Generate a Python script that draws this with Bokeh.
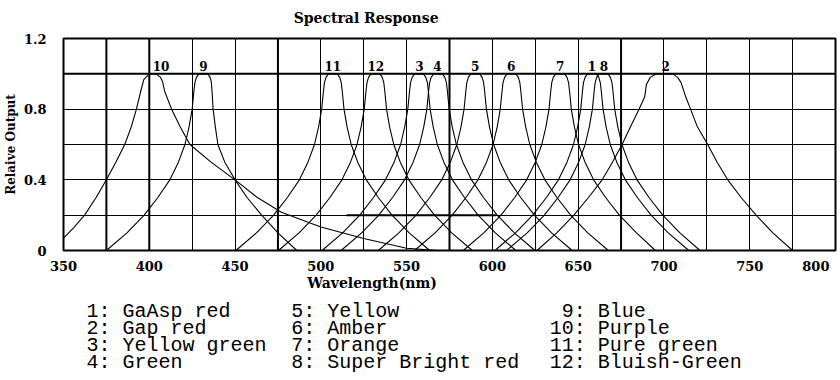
from bokeh.plotting import figure
from bokeh.layouts import column
from bokeh.models import Range1d, FixedTicker
from bokeh.embed import file_html
from bokeh.resources import INLINE
from bokeh.core.properties import value

# ---------------- data ----------------
led_numbers = ["1", "2", "3", "4", "5", "6", "7", "8", "9", "10", "11", "12"]
led_names = ["GaAsp red", "Gap red", "Yellow green", "Green", "Yellow", "Amber",
             "Orange", "Super Bright red", "Blue", "Purple", "Pure green", "Bluish-Green"]

# relative output levels at which the narrow-band curves were read
levels = [0.0, 0.1, 0.2, 0.3, 0.4, 0.5, 0.6, 0.7, 0.8, 0.9, 0.95, 0.98, 1.0,
          1.0, 0.98, 0.95, 0.9, 0.8, 0.7, 0.6, 0.5, 0.4, 0.3, 0.2, 0.1, 0.0]

# wavelengths (nm) where each curve crosses the levels above
wl_1 = [601.5, 613.5, 623.5, 631.5, 638.5, 643.5, 647.3, 649.7, 651.5, 652.5, 653.1, 654.0, 655.4,
        660.6, 662.0, 662.9, 663.5, 664.5, 666.3, 668.7, 672.5, 677.5, 684.5, 692.5, 702.5, 714.5]
wl_3 = [500.7, 512.7, 522.7, 530.7, 537.7, 542.7, 546.5, 548.9, 550.7, 551.7, 552.3, 553.2, 554.6,
        559.8, 561.2, 562.1, 562.7, 563.7, 565.5, 567.9, 571.7, 576.7, 583.7, 591.7, 601.7, 613.7]
wl_4 = [511.8, 523.8, 533.8, 541.8, 548.8, 553.8, 557.6, 560.0, 561.8, 562.8, 563.4, 564.3, 565.7,
        570.9, 572.3, 573.2, 573.8, 574.8, 576.6, 579.0, 582.8, 587.8, 594.8, 602.8, 612.8, 624.8]
wl_5 = [533.5, 545.5, 555.5, 563.5, 570.5, 575.5, 579.3, 581.7, 583.5, 584.5, 585.1, 586.0, 587.4,
        592.6, 594.0, 594.9, 595.5, 596.5, 598.3, 600.7, 604.5, 609.5, 616.5, 624.5, 634.5, 646.5]
wl_6 = [554.6, 566.6, 576.6, 584.6, 591.6, 596.6, 600.4, 602.8, 604.6, 605.6, 606.2, 607.1, 608.5,
        613.7, 615.1, 616.0, 616.6, 617.6, 619.4, 621.8, 625.6, 630.6, 637.6, 645.6, 655.6, 667.6]
wl_7 = [583.0, 595.0, 605.0, 613.0, 620.0, 625.0, 628.8, 631.2, 633.0, 634.0, 634.6, 635.5, 636.9,
        642.1, 643.5, 644.4, 645.0, 646.0, 647.8, 650.2, 654.0, 659.0, 666.0, 674.0, 684.0, 695.0]
wl_8 = [608.3, 620.3, 630.3, 638.3, 645.3, 650.3, 654.1, 656.5, 658.3, 659.3, 659.9, 660.8, 662.2,
        667.4, 668.8, 669.7, 670.3, 671.3, 673.1, 675.5, 679.3, 684.3, 691.3, 699.3, 709.3, 721.0]
wl_9 = [375.0, 387.0, 397.0, 405.0, 412.0, 417.0, 420.8, 423.2, 425.0, 426.0, 426.6, 427.5, 428.9,
        434.1, 435.5, 436.2, 436.6, 437.2, 438.5, 440.0, 444.0, 450.0, 457.0, 465.5, 475.0, 486.0]
wl_11 = [450.5, 462.5, 472.5, 480.5, 487.5, 492.5, 496.3, 498.7, 500.5, 501.5, 502.1, 503.0, 504.4,
         509.6, 511.0, 511.9, 512.5, 513.5, 515.3, 517.7, 521.5, 526.5, 533.5, 541.5, 551.5, 563.5]
wl_12 = [475.3, 487.3, 497.3, 505.3, 512.3, 517.3, 521.1, 523.5, 525.3, 526.3, 526.9, 527.8, 529.2,
         534.4, 535.8, 536.7, 537.3, 538.3, 540.1, 542.5, 546.3, 551.3, 558.3, 566.3, 576.3, 588.3]

# the two broad curves
wl_2 = [626, 637.5, 647.5, 656, 664, 670, 675.6, 680.5, 685.5, 688.8, 689.8, 692, 695.5,
        705.1, 708, 710, 712.7, 715.5, 719.5, 725.5, 731, 737.2, 745, 753.7, 763.5, 775]
out_2 = [0, 0.1, 0.2, 0.3, 0.4, 0.5, 0.6, 0.7, 0.8, 0.87, 0.94, 0.98, 1.0,
         1.0, 0.98, 0.95, 0.87, 0.8, 0.7, 0.6, 0.5, 0.4, 0.3, 0.2, 0.1, 0]
wl_10 = [350, 356, 362.3, 369, 375, 380.5, 385.7, 389.5, 392.5, 395, 396.8, 400, 404, 406.5,
         407.7, 409, 413, 418, 423.7, 436, 450, 463, 477, 500, 525, 550, 568]
out_10 = [0.07, 0.13, 0.2, 0.3, 0.4, 0.5, 0.6, 0.7, 0.8, 0.9, 0.967, 1.0, 1.0, 0.98,
          0.957, 0.9, 0.8, 0.7, 0.6, 0.5, 0.4, 0.3, 0.216, 0.133, 0.068, 0.013, 0]

# peak wavelength of each LED (where its number is printed), LEDs 1..12
peak_nm = [658, 701, 557.5, 568, 590, 611, 639.5, 665, 431.5, 402, 507, 532]

x_ticks = [350, 400, 450, 500, 550, 600, 650, 700, 750, 800]
y_ticks = [0, 0.4, 0.8, 1.2]
grid_x = [350, 375, 400, 425, 450, 475, 500, 525, 550, 575, 600, 625, 650, 675, 700, 725, 750, 775, 800]
grid_y = [0, 0.2, 0.4, 0.6, 0.8, 1.0, 1.2]
heavy_x = [375, 400, 475, 575, 675]
heavy_y = [1.0]
heavy_seg_x0 = [515]
heavy_seg_x1 = [602]
heavy_seg_y = [0.2]

TITLE = "Spectral Response"
X_TITLE = "Wavelength(nm)"
Y_TITLE = "Relaive Output"

SERIF = "DejaVu Serif"
MONO = "Liberation Mono"
W = 838
BL, BR = 62, 3          # left / right borders around the plotting frame (px)


def text_panel(height):
    # text strip whose x coordinates are page pixels; borders equal to the chart's
    f = figure(width=W, height=height, output_backend="svg", toolbar_location=None,
               x_range=Range1d(BL, W - BR), y_range=Range1d(0, height),
               x_axis_type=None, y_axis_type=None,
               min_border_left=BL, min_border_right=BR, min_border_top=0, min_border_bottom=0)
    f.outline_line_color = None
    f.background_fill_color = "white"
    f.border_fill_color = "white"
    f.grid.visible = False
    return f


# ---------------- title strip ----------------
top = text_panel(30)
top.text(x=[365], y=[13], text=[TITLE], text_align="center", text_baseline="middle",
         text_font=value(SERIF), text_font_style="bold", text_font_size="14px", text_color="black")

# ---------------- main chart ----------------
p = figure(width=W, height=246, output_backend="svg", toolbar_location=None,
           x_range=Range1d(350, 800), y_range=Range1d(0, 1.2),
           min_border_left=BL, min_border_right=BR, min_border_top=8, min_border_bottom=22)
p.background_fill_color = "white"
p.border_fill_color = "white"
p.outline_line_color = "black"
p.outline_line_width = 2

for g, t in ((p.xgrid, grid_x), (p.ygrid, grid_y)):
    g.ticker = FixedTicker(ticks=t)
    g.grid_line_color = "black"
    g.grid_line_alpha = 1.0
    g.grid_line_width = 1

# heavier grid lines
p.segment(x0=heavy_x, x1=heavy_x, y0=[0] * len(heavy_x), y1=[1.2] * len(heavy_x),
          line_color="black", line_width=2)
p.segment(x0=[350] * len(heavy_y), x1=[800] * len(heavy_y), y0=heavy_y, y1=heavy_y,
          line_color="black", line_width=2)
p.segment(x0=heavy_seg_x0, x1=heavy_seg_x1, y0=heavy_seg_y, y1=heavy_seg_y,
          line_color="black", line_width=2)

ax = p.xaxis[0]
ax.ticker = FixedTicker(ticks=x_ticks)
# the last label sits flush with the right border, as in the original
ax.major_label_overrides = {800: "800" + "\u00a0" * 2}
ay = p.yaxis[0]
ay.ticker = FixedTicker(ticks=y_ticks)
ay.major_label_overrides = {0: "0", 0.4: "0.4", 0.8: "0.8", 1.2: "1.2"}
for a in (ax, ay):
    a.axis_line_color = None
    a.major_tick_line_color = None
    a.minor_tick_line_color = None
    a.major_tick_out = 0
    a.major_tick_in = 0
    a.minor_tick_out = 0
    a.minor_tick_in = 0
    a.major_label_text_font = SERIF
    a.major_label_text_font_style = "bold"
    a.major_label_text_font_size = "13px"
    a.major_label_text_color = "black"
ax.major_label_standoff = 8
ay.major_label_standoff = 17
ay.axis_label = Y_TITLE
ay.axis_label_standoff = 3
ay.axis_label_text_font = SERIF
ay.axis_label_text_font_style = "bold"
ay.axis_label_text_font_size = "12px"
ay.axis_label_text_color = "black"

curves = [(wl_1, levels), (wl_2, out_2), (wl_3, levels), (wl_4, levels), (wl_5, levels),
          (wl_6, levels), (wl_7, levels), (wl_8, levels), (wl_9, levels), (wl_10, out_10),
          (wl_11, levels), (wl_12, levels)]
for xs, ys in curves:
    p.line(xs, ys, line_color="black", line_width=1.1)

idx_c = [i for i in range(12) if led_numbers[i] != "10"]
idx_l = [i for i in range(12) if led_numbers[i] == "10"]
for idx, align in ((idx_c, "center"), (idx_l, "left")):
    p.text(x=[peak_nm[i] for i in idx], y=[1.0 for i in idx], text=[led_numbers[i] for i in idx],
           text_align=align, text_baseline="alphabetic", y_offset=-8,
           text_font=value(SERIF), text_font_style="bold", text_font_size="12px", text_color="black")

# ---------------- axis title and key ----------------
bottom = text_panel(102)
bottom.text(x=[371], y=[96], text=[X_TITLE], text_align="center", text_baseline="middle",
            text_font=value(SERIF), text_font_style="bold", text_font_size="14px", text_color="black")

row_y = [67, 50, 33, 16]
col_x = [85, 290]
key_kw = dict(text_baseline="middle", text_font=value(MONO), text_font_size="20px", text_color="black")
left_idx = list(range(8))
bottom.text(x=[col_x[i // 4] for i in left_idx], y=[row_y[i % 4] for i in left_idx],
            text=[f"{led_numbers[i]}: {led_names[i]}" for i in left_idx], text_align="left", **key_kw)
right_idx = list(range(8, 12))
bottom.text(x=[585] * 4, y=[row_y[i % 4] for i in right_idx],
            text=[f"{led_numbers[i]}:" for i in right_idx], text_align="right", **key_kw)
bottom.text(x=[597] * 4, y=[row_y[i % 4] for i in right_idx],
            text=[led_names[i] for i in right_idx], text_align="left", **key_kw)

layout = column(top, p, bottom, spacing=0)
open("out.html", "w").write(file_html(layout, INLINE))
